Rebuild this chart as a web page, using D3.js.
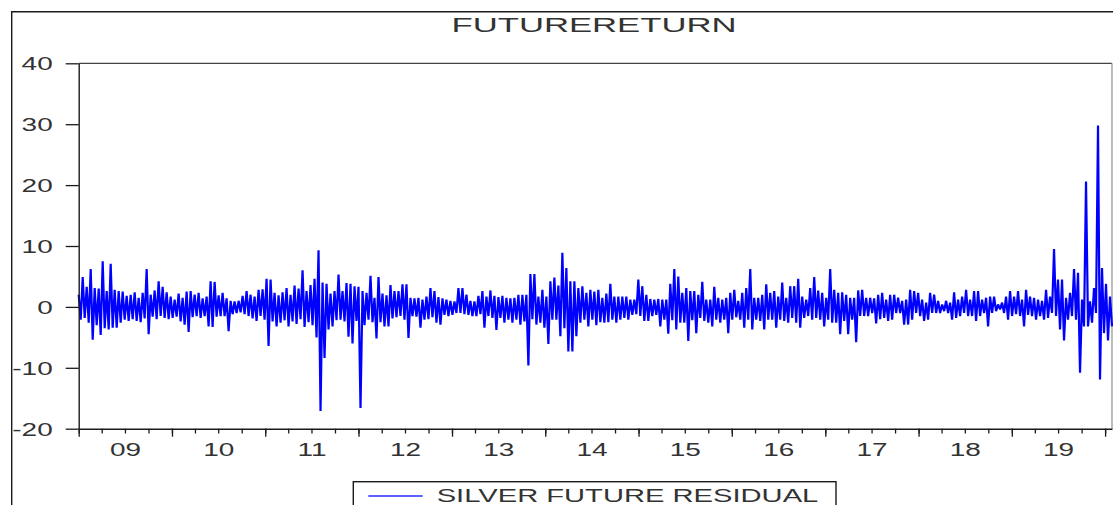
<!DOCTYPE html>
<html>
<head>
<meta charset="utf-8">
<script src="https://cdn.jsdelivr.net/npm/d3@7"></script>
<style>
  html, body { margin: 0; padding: 0; background: #fff; overflow: hidden; }
  svg { display: block; }
  text { font-family: "Liberation Sans", Arial, sans-serif; }
</style>
</head>
<body>
<svg id="chart" width="1113" height="505"></svg>
<script>
// ---- chart content ----
const titleText = "FUTURERETURN";
const seriesName = "SILVER FUTURE RESIDUAL";
const yTicks = [-20, -10, 0, 10, 20, 30, 40];
const yearLabels = ["09", "10", "11", "12", "13", "14", "15", "16", "17", "18", "19"];

// observation window of the residual series
const obsStart = new Date(2009, 0, 1);
const obsEnd = new Date(2020, 0, 28);

// residuals, evenly spaced observations from obsStart to obsEnd
const residual = [
  // 2009
  2.0,-2.1, 4.9,-1.8, 3.3,-2.6, 6.2,-5.4, 3.1,-3.0, 3.0,-4.6, 7.5,-3.5, 2.6,-3.7,
  7.1,-3.4, 2.8,-3.4, 2.6,-2.6, 2.5,-2.1, 1.8,-2.3, 2.0,-2.0, 2.4,-2.3, 1.5,-2.5,
  2.3,-1.9, 6.2,-4.5, 2.0,-1.6, 2.7,-2.0, 4.2,-1.5, 3.3,-1.8, 2.4,-2.0, 1.7,-1.8,
  // 2010
  1.2,-1.6, 2.2,-2.4, 1.5,-2.9, 2.5,-4.1, 2.6,-1.7, 2.0,-1.5, 2.3,-1.8, 1.4,-1.5,
  1.7,-3.2, 4.2,-3.3, 4.1,-1.6, 1.9,-1.5, 2.3,-1.5, 1.4,-4.0, 1.0,-1.2, 0.9,-1.0,
  1.0,-0.9, 1.8,-1.2, 2.6,-1.5, 2.0,-1.9, 1.7,-2.3, 2.8,-1.5, 2.9,-2.1,
  // 2011
  4.6,-6.4, 4.5,-2.4, 2.3,-3.2, 1.9,-2.6, 2.4,-2.2, 3.1,-3.2, 2.0,-2.4, 3.5,-2.8,
  3.0,-2.0, 6.0,-3.3, 2.6,-2.5, 3.6,-3.0, 4.6,-5.0, 9.3,-17.1, 4.0,-8.4, 3.8,-3.7,
  2.2,-3.2, 2.6,-2.2, 5.3,-2.1, 2.6,-2.4, 3.9,-4.9, 3.8,-6.0, 3.4,-2.3, 3.3,-16.6,
  // 2012
  2.6,-3.0, 2.3,-2.1, 5.1,-2.5, 1.5,-5.2, 4.9,-2.5, 2.2,-3.2, 1.9,-3.2, 3.6,-1.9,
  2.6,-1.7, 2.6,-1.5, 3.7,-2.1, 3.7,-5.1, 1.5,-1.5, 1.4,-1.6, 1.5,-3.4, 1.2,-2.1,
  1.7,-2.0, 3.1,-1.7, 2.6,-2.6, 1.6,-2.9, 1.4,-1.3, 1.2,-1.5, 1.0,-1.3,
  // 2013
  0.9,-1.0, 3.1,-1.0, 3.1,-1.2, 2.0,-1.3, 1.0,-1.5, 0.9,-1.5, 1.8,-1.2, 2.6,-3.4,
  1.7,-1.5, 2.7,-1.8, 1.8,-3.8, 1.6,-1.8, 1.8,-2.6, 1.5,-2.1, 1.4,-2.6, 1.5,-2.1,
  2.0,-2.9, 2.0,-2.4, 2.0,-9.6, 5.4,-2.0, 5.4,-2.9, 1.7,-2.6, 2.8,-3.4,
  // 2014
  1.7,-6.1, 4.2,-2.1, 4.8,-2.1, 3.5,-4.8, 8.9,-3.5, 6.4,-7.3, 4.2,-7.3, 4.2,-4.8,
  3.1,-2.6, 3.4,-2.1, 2.3,-3.2, 2.8,-2.1, 2.5,-3.0, 2.8,-2.5, 1.5,-2.6, 2.2,-2.5,
  3.8,-2.1, 1.7,-2.6, 1.7,-2.1, 1.7,-1.8, 1.7,-2.1, 1.2,-1.3, 1.2,-1.2, 4.5,-1.5,
  // 2015
  3.4,-2.3, 2.0,-2.3, 1.3,-1.5, 1.2,-1.3, 1.3,-3.2, 1.2,-2.1, 1.2,-4.4, 3.8,-2.2,
  6.2,-3.7, 5.0,-2.6, 2.3,-2.6, 3.1,-5.6, 2.6,-2.2, 2.6,-4.3, 2.0,-1.8, 4.1,-2.3,
  1.2,-2.6, 1.2,-3.2, 3.3,-2.1, 1.5,-2.6, 1.2,-2.1, 1.5,-4.3, 2.3,-2.1,
  // 2016
  2.8,-1.7, 1.0,-2.1, 2.3,-3.4, 3.1,-2.1, 6.2,-3.7, 1.5,-2.1, 1.5,-2.3, 2.0,-3.7,
  3.7,-2.1, 2.3,-2.1, 2.6,-3.4, 1.7,-2.1, 4.0,-2.3, 1.5,-2.6, 3.4,-1.8, 3.4,-2.6,
  4.6,-3.4, 1.7,-1.8, 1.2,-1.5, 3.1,-2.1, 4.9,-1.8, 2.7,-2.1, 2.3,-3.2,
  // 2017
  1.5,-2.1, 6.2,-2.6, 2.8,-2.6, 2.3,-4.5, 2.4,-2.3, 2.0,-4.5, 1.5,-2.1, 1.5,-5.8,
  2.7,-1.5, 2.8,-1.5, 1.5,-1.5, 1.5,-1.0, 1.4,-2.7, 2.0,-2.0, 2.3,-1.8, 1.2,-2.3,
  2.0,-2.1, 2.0,-1.0, 1.5,-1.0, 1.0,-2.9, 1.2,-2.9, 2.8,-2.1, 2.6,-1.0,
  // 2018
  2.3,-1.5, 1.2,-2.3, 0.7,-2.1, 2.3,-1.0, 2.0,-1.0, 1.0,-1.0, 0.4,-0.7, 1.0,-1.0,
  0.7,-2.1, 2.4,-1.8, 1.2,-1.5, 1.7,-1.0, 2.8,-1.5, 1.2,-1.5, 2.6,-2.3, 2.6,-1.5,
  1.2,-1.0, 1.5,-3.2, 1.7,-1.0, 1.7,-0.7, 0.4,-0.4, 0.7,-1.0, 1.7,-2.1,
  // 2019 - Jan 2020
  2.6,-1.5, 1.7,-1.2, 2.6,-1.5, 1.2,-3.2, 2.8,-1.3, 1.7,-1.5, 1.5,-2.1, 1.2,-1.5,
  1.0,-2.1, 2.8,-1.8, 1.7,-1.0, 9.5,-1.5, 4.5,-3.7, 4.5,-5.5, 1.5,-2.1, 2.3,-1.5,
  6.2,-2.1, 5.6,-10.8, 1.2,-3.2, 20.6,-3.2, 0.9,-2.6, 3.1,-1.0, 29.8,-11.9, 6.4,-4.3,
  3.8,-5.5, 1.7,-3.2
];

// ---- layout ----
const W = 1113, H = 505;
const plot = { left: 78.7, right: 1112, top: 63.3, bottom: 428.7 };
const textStretch = 1.58;
const ink = "#333";
const lineInk = "#1a1a1a";

const svg = d3.select("#chart");

// observation dates
const obsTime = d3.scaleLinear().domain([0, residual.length - 1]).range([+obsStart, +obsEnd]);
const data = residual.map((v, i) => ({ date: new Date(obsTime(i)), value: v }));

const x = d3.scaleTime().domain([obsStart, obsEnd]).range([plot.left, plot.right]);
const y = d3.scaleLinear().domain([-20, 40]).range([plot.bottom, plot.top]);

// outer frame
svg.append("path")
  .attr("d", `M11.7,${H + 2}V11.7H${W + 2}`)
  .attr("fill", "none").attr("stroke", lineInk).attr("stroke-width", 1.4);

// title
svg.append("text")
  .attr("x", 594).attr("y", 31.7)
  .attr("text-anchor", "middle")
  .attr("font-size", 21)
  .attr("fill", ink)
  .attr("textLength", 285)
  .attr("lengthAdjust", "spacingAndGlyphs")
  .text(titleText);

// plot frame: top and right edges
svg.append("line")
  .attr("x1", plot.left).attr("x2", plot.right)
  .attr("y1", plot.top).attr("y2", plot.top)
  .attr("stroke", "#444").attr("stroke-width", 1.3);
svg.append("line")
  .attr("x1", plot.right).attr("x2", plot.right)
  .attr("y1", plot.top).attr("y2", plot.bottom)
  .attr("stroke", "#999").attr("stroke-width", 1.3);

// series
const line = d3.line().x(d => x(d.date)).y(d => y(d.value));
svg.append("path")
  .datum(data)
  .attr("d", line)
  .attr("fill", "none")
  .attr("stroke", "#0000ff")
  .attr("stroke-width", 2.2)
  .attr("stroke-linejoin", "bevel");

// y axis
const yAxis = svg.append("g")
  .attr("transform", `translate(${plot.left},0)`)
  .call(d3.axisLeft(y).tickValues(yTicks).tickSize(13).tickSizeOuter(0).tickPadding(13)
    .tickFormat(d => String(d)));
yAxis.select(".domain").attr("stroke", lineInk).attr("stroke-width", 1.4);
yAxis.selectAll(".tick line").attr("stroke", lineInk).attr("stroke-width", 1.3);
yAxis.selectAll(".tick text")
  .attr("font-size", 17.7)
  .attr("font-family", "'Liberation Sans', Arial, sans-serif")
  .attr("fill", ink)
  .attr("x", -26 / textStretch)
  .attr("dy", "0.36em")
  .attr("transform", `scale(${textStretch},1)`);

// x axis: quarterly minor ticks, yearly major ticks, labels mid-year
const xMinor = svg.append("g")
  .attr("transform", `translate(0,${plot.bottom})`)
  .call(d3.axisBottom(x).ticks(d3.timeMonth.every(3)).tickSize(4.8).tickSizeOuter(0).tickFormat(""));
xMinor.select(".domain").remove();
xMinor.selectAll(".tick line").attr("stroke", lineInk).attr("stroke-width", 1.3);

const xMajor = svg.append("g")
  .attr("transform", `translate(0,${plot.bottom})`)
  .call(d3.axisBottom(x).ticks(d3.timeYear.every(1)).tickSize(8).tickSizeOuter(0).tickFormat(""));
xMajor.select(".domain").attr("stroke", lineInk).attr("stroke-width", 1.4);
xMajor.selectAll(".tick line").attr("stroke", lineInk).attr("stroke-width", 1.3);

const labelDates = yearLabels.map(s => new Date(2000 + (+s), 6, 1));
const xLabels = svg.append("g")
  .attr("transform", `translate(0,${plot.bottom})`)
  .call(d3.axisBottom(x).tickValues(labelDates).tickSize(0)
    .tickFormat((d, i) => yearLabels[i]));
xLabels.select(".domain").remove();
xLabels.selectAll(".tick text")
  .attr("font-size", 17.7)
  .attr("font-family", "'Liberation Sans', Arial, sans-serif")
  .attr("fill", ink)
  .attr("y", 27.3)
  .attr("dy", null)
  .attr("transform", `scale(${textStretch},1)`);

// legend
const legend = svg.append("g");
legend.append("rect")
  .attr("x", 353.3).attr("y", 481.7)
  .attr("width", 482.7).attr("height", 40)
  .attr("fill", "#fff").attr("stroke", lineInk).attr("stroke-width", 1.4);
legend.append("line")
  .attr("x1", 368.3).attr("x2", 422.7)
  .attr("y1", 496).attr("y2", 496)
  .attr("stroke", "#2a2aff").attr("stroke-width", 1.5);
legend.append("text")
  .attr("x", 436.7).attr("y", 501.7)
  .attr("font-size", 18.7)
  .attr("fill", ink)
  .attr("textLength", 381.6)
  .attr("lengthAdjust", "spacingAndGlyphs")
  .text(seriesName);
</script>
</body>
</html>
